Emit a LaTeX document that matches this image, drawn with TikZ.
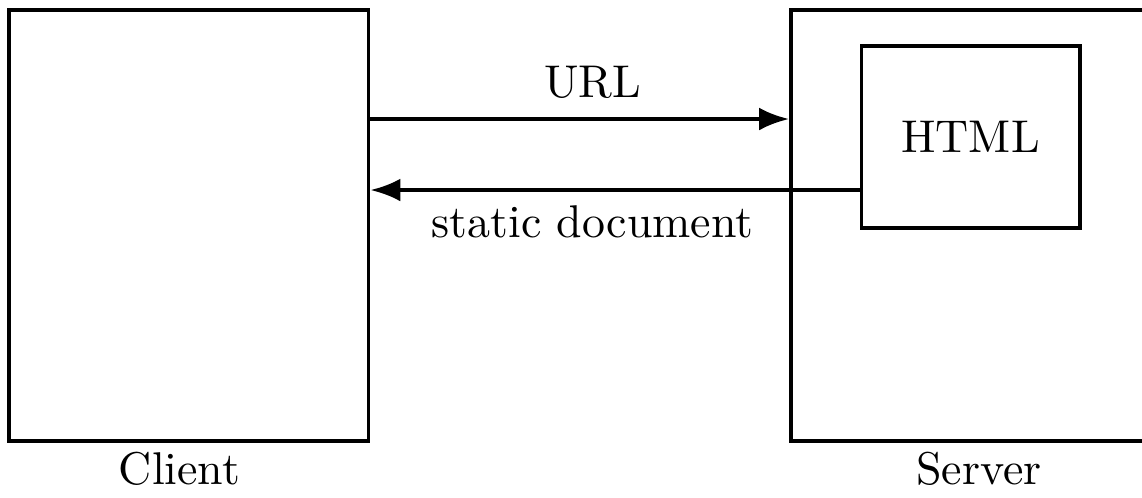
\documentclass[tikz,border=0pt]{standalone}
\usetikzlibrary{arrows.meta}

\tikzstyle{machine}=[draw,rectangle,line width=0.9pt,inner sep=0pt]
\tikzstyle{caption}=[anchor=base,inner sep=0pt]

\begin{document}
\begin{tikzpicture}[font=\fontsize{10.45}{12.5}\selectfont]
			\useasboundingbox (0,0) rectangle (9.136,-3.976);
			\begin{scope}[>={Latex[length=6.8pt,width=5.2pt]}] %filled arrow tips
				\node (client)[machine,minimum width=2.876cm,minimum height=3.448cm] at (1.51,-1.804) {};
				\node (server)[machine,minimum width=2.856cm,minimum height=3.448cm] at (7.756,-1.804) {};
				\node (html)[machine,minimum width=1.744cm,minimum height=1.456cm] at (7.764,-1.096) {HTML};
				\node (clientname)[caption] at (1.436,-3.872) {Client};
				\node (servername)[caption] at (7.832,-3.872) {Server};
				\node (url)[caption] at (4.74,-0.776) {URL};
				\node (doc)[caption] at (4.74,-1.896) {static document};
				\draw[->,line width=0.9pt] (client.east |- 0,-0.952) -- (server.west |- 0,-0.952);
				\draw[->,line width=0.9pt] (html.west |- 0,-1.52) -- (client.east |- 0,-1.52);
			\end{scope}
		\end{tikzpicture}
\end{document}
